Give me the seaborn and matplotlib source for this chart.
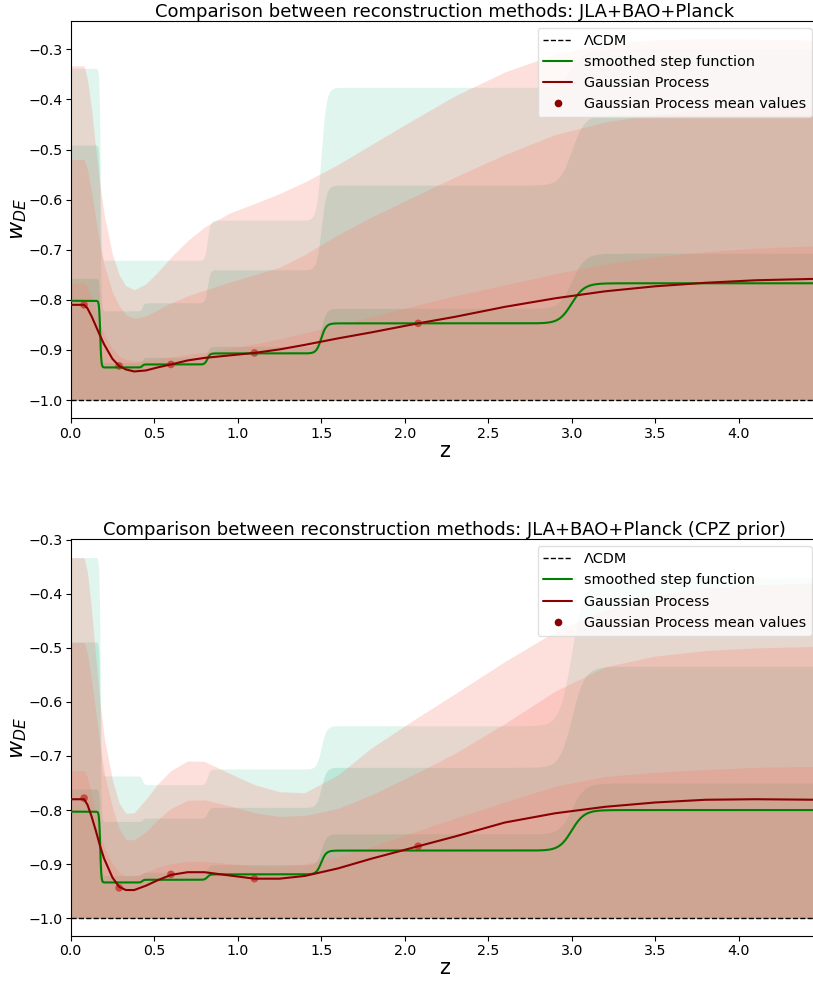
import numpy as np
import pandas as pd
import matplotlib
matplotlib.use("Agg")
import matplotlib.pyplot as plt
from matplotlib.lines import Line2D
import seaborn as sns

# ---------------------------------------------------------------- data
# smoothed step function: bin edges in scale factor a = 1/(1+z)
a_edges = [0.85, 0.70, 0.55, 0.40, 0.25]
step_width_a = 0.0047

# JLA+BAO+Planck, step-function bins (mean and upper 1/2/3 sigma limits)
top_step_mean = [-0.802, -0.935, -0.929, -0.907, -0.847, -0.767]
top_step_1s = [-0.757, -0.925, -0.915, -0.893, -0.817, -0.707]
top_step_2s = [-0.491, -0.822, -0.806, -0.740, -0.571, -0.430]
top_step_3s = [-0.338, -0.721, -0.721, -0.641, -0.376, -0.300]

# JLA+BAO+Planck (CPZ prior)
bot_step_mean = [-0.803, -0.934, -0.929, -0.919, -0.875, -0.800]
bot_step_1s = [-0.761, -0.921, -0.915, -0.901, -0.844, -0.750]
bot_step_2s = [-0.489, -0.821, -0.815, -0.795, -0.721, -0.534]
bot_step_3s = [-0.333, -0.737, -0.753, -0.724, -0.644, -0.370]

# Gaussian process reconstruction
z_gp = [0.0, 0.08, 0.10, 0.125, 0.15, 0.175, 0.2, 0.25, 0.29, 0.33, 0.38,
        0.45, 0.52, 0.6, 0.7, 0.8, 0.95, 1.1, 1.25, 1.4, 1.6, 1.8, 2.08,
        2.3, 2.6, 2.9, 3.2, 3.5, 3.8, 4.1, 4.48]

top_gp_mean = [-0.810, -0.810, -0.817, -0.833, -0.852, -0.871, -0.889, -0.918,
               -0.932, -0.939, -0.943, -0.941, -0.935, -0.929, -0.921, -0.916,
               -0.911, -0.906, -0.899, -0.890, -0.877, -0.865, -0.847, -0.834,
               -0.814, -0.797, -0.783, -0.773, -0.766, -0.761, -0.758]
top_gp_1s = [-0.767, -0.767, -0.775, -0.795, -0.820, -0.845, -0.868, -0.898,
             -0.912, -0.919, -0.922, -0.921, -0.918, -0.914, -0.909, -0.905,
             -0.897, -0.888, -0.878, -0.866, -0.850, -0.834, -0.810, -0.792,
             -0.770, -0.748, -0.728, -0.714, -0.704, -0.697, -0.692]
top_gp_2s = [-0.520, -0.520, -0.540, -0.585, -0.640, -0.690, -0.730, -0.785,
             -0.812, -0.830, -0.837, -0.832, -0.820, -0.806, -0.792, -0.781,
             -0.765, -0.750, -0.735, -0.710, -0.670, -0.635, -0.590, -0.555,
             -0.510, -0.470, -0.445, -0.430, -0.420, -0.416, -0.414]
top_gp_3s = [-0.333, -0.333, -0.360, -0.420, -0.500, -0.570, -0.630, -0.710,
             -0.750, -0.772, -0.780, -0.768, -0.745, -0.715, -0.682, -0.655,
             -0.627, -0.608, -0.588, -0.565, -0.530, -0.490, -0.435, -0.393,
             -0.345, -0.310, -0.290, -0.281, -0.279, -0.280, -0.282]

bot_gp_mean = [-0.780, -0.780, -0.790, -0.812, -0.838, -0.866, -0.890, -0.925,
               -0.942, -0.948, -0.948, -0.940, -0.930, -0.920, -0.915, -0.915,
               -0.921, -0.927, -0.927, -0.922, -0.908, -0.890, -0.867, -0.849,
               -0.823, -0.806, -0.794, -0.786, -0.781, -0.780, -0.781]
bot_gp_1s = [-0.727, -0.727, -0.740, -0.770, -0.805, -0.840, -0.868, -0.900,
             -0.915, -0.922, -0.922, -0.915, -0.906, -0.899, -0.895, -0.895,
             -0.899, -0.904, -0.905, -0.900, -0.886, -0.868, -0.838, -0.815,
             -0.785, -0.756, -0.738, -0.730, -0.725, -0.721, -0.719]
bot_gp_2s = [-0.490, -0.490, -0.510, -0.560, -0.620, -0.680, -0.730, -0.795,
             -0.835, -0.855, -0.855, -0.840, -0.818, -0.797, -0.782, -0.781,
             -0.792, -0.805, -0.812, -0.810, -0.797, -0.772, -0.730, -0.695,
             -0.640, -0.580, -0.535, -0.515, -0.505, -0.500, -0.497]
bot_gp_3s = [-0.333, -0.333, -0.360, -0.430, -0.520, -0.600, -0.665, -0.745,
             -0.787, -0.806, -0.805, -0.780, -0.752, -0.727, -0.709, -0.710,
             -0.732, -0.753, -0.766, -0.768, -0.735, -0.685, -0.628, -0.585,
             -0.525, -0.470, -0.430, -0.403, -0.389, -0.383, -0.380]

# Gaussian process nodes
z_nodes = [0.08, 0.29, 0.60, 1.10, 2.08]
top_nodes = [-0.810, -0.932, -0.929, -0.906, -0.847]
bot_nodes = [-0.778, -0.944, -0.919, -0.927, -0.867]

w_lcdm = -1.0
z_max = 4.48

panels = [
    dict(title="Comparison between reconstruction methods: JLA+BAO+Planck",
         step=(top_step_mean, top_step_1s, top_step_2s, top_step_3s),
         gp=(top_gp_mean, top_gp_1s, top_gp_2s, top_gp_3s),
         nodes=top_nodes, ylim=(-1.0365, -0.2429)),
    dict(title="Comparison between reconstruction methods: JLA+BAO+Planck (CPZ prior)",
         step=(bot_step_mean, bot_step_1s, bot_step_2s, bot_step_3s),
         gp=(bot_gp_mean, bot_gp_1s, bot_gp_2s, bot_gp_3s),
         nodes=bot_nodes, ylim=(-1.0330, -0.2990)),
]

# ---------------------------------------------------------------- style
sns.set_style("ticks")
plt.rcParams["font.family"] = ["DejaVu Sans"]
plt.rcParams["axes.edgecolor"] = "black"
plt.rcParams["text.color"] = "black"
plt.rcParams["axes.labelcolor"] = "black"
plt.rcParams["xtick.color"] = "black"
plt.rcParams["ytick.color"] = "black"

STEP_COLOR = "#66cdaa"
GP_COLOR = "salmon"
# 3-sigma, 2-sigma, 1-sigma shading
STEP_ALPHAS = (0.2, 0.3, 0.5)
GP_ALPHAS = (0.25, 0.25, 0.25)

TICK_FS = 10.2
LEGEND_FS = 10.4


def smoothed_step(z, levels):
    a = 1.0 / (1.0 + np.asarray(z))
    out = np.full_like(a, levels[0], dtype=float)
    for i, edge in enumerate(a_edges):
        out += (levels[i + 1] - levels[i]) * 0.5 * (1.0 - np.tanh((a - edge) / step_width_a))
    return out


fig = plt.figure(figsize=(8.13, 9.81), dpi=100)
ax_top = fig.add_axes([0.0870, 0.5736, 0.9204, 0.4053])
ax_bot = fig.add_axes([0.0870, 0.0459, 0.9204, 0.4044])

z_fine = np.linspace(0.0, z_max, 1500)

for ax, p in zip([ax_top, ax_bot], panels):
    s_mean, s1, s2, s3 = p["step"]
    g_mean, g1, g2, g3 = p["gp"]

    # step-function confidence regions
    for lev, al in zip((s3, s2, s1), STEP_ALPHAS):
        ax.fill_between(z_fine, w_lcdm, smoothed_step(z_fine, lev),
                        color=STEP_COLOR, alpha=al, lw=0, zorder=1)

    # GP nodes, then the GP bands on top of them
    sns.scatterplot(x=z_nodes, y=p["nodes"], ax=ax, color="darkred", s=30,
                    edgecolor="none", zorder=1, legend=False)
    for band, al in zip((g3, g2, g1), GP_ALPHAS):
        ax.fill_between(z_gp, w_lcdm, band, color=GP_COLOR, alpha=al,
                        lw=0, zorder=1)

    ax.axhline(w_lcdm, color="black", ls="--", lw=1.0, zorder=2)
    step_df = pd.DataFrame({"z": z_fine, "w": smoothed_step(z_fine, s_mean)})
    sns.lineplot(data=step_df, x="z", y="w", ax=ax, color="green", lw=1.5,
                 estimator=None, sort=False, zorder=3)
    sns.lineplot(x=z_gp, y=g_mean, ax=ax, color="darkred", lw=1.5,
                 estimator=None, sort=False, zorder=3)

    ax.set_xlim(0, z_max)
    ax.set_ylim(*p["ylim"])
    ax.set_xticks(np.arange(0, 4.01, 0.5))
    ax.set_yticks(np.arange(-1.0, -0.29, 0.1))
    ax.tick_params(labelsize=TICK_FS, length=3.5, width=0.8, pad=2.5)
    ax.set_xlabel("z", fontsize=15, labelpad=0)
    ax.set_ylabel(r"$w_{DE}$", fontsize=16)
    ax.yaxis.set_label_coords(-0.056, 0.5)
    ax.set_title(p["title"], fontsize=13, pad=3)
    for sp in ax.spines.values():
        sp.set_linewidth(0.8)

    handles = [
        Line2D([], [], color="black", ls="--", lw=1.0),
        Line2D([], [], color="green", lw=1.5),
        Line2D([], [], color="darkred", lw=1.5),
        Line2D([], [], color="darkred", marker="o", ls="none", markersize=4.5),
    ]
    labels = ["\u039bCDM", "smoothed step function", "Gaussian Process",
              "Gaussian Process mean values"]
    ax.legend(handles, labels, loc="upper right", fontsize=LEGEND_FS,
              frameon=True, framealpha=0.8, edgecolor="0.85", fancybox=True)

fig.savefig("out.png", dpi=100)
